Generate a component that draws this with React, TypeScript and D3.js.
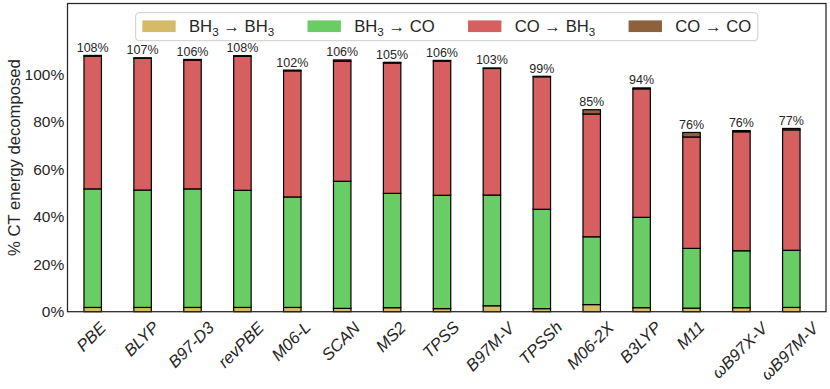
import { useEffect, useRef } from "react";
import * as d3 from "d3";

// functionals on the x axis
const methods = [
  "PBE", "BLYP", "B97-D3", "revPBE", "M06-L", "SCAN", "MS2", "TPSS",
  "B97M-V", "TPSSh", "M06-2X", "B3LYP", "M11", "ωB97X-V", "ωB97M-V",
];

// % of CT energy per channel
const bh3ToBh3 = [1.8, 1.8, 1.8, 1.8, 1.8, 1.4, 1.7, 1.3, 2.5, 1.3, 3.0, 1.7, 1.5, 1.7, 1.8];
const bh3ToCo = [50.0, 49.5, 50.0, 49.4, 46.6, 53.6, 48.2, 47.8, 46.7, 41.9, 28.6, 38.1, 25.2, 24.0, 24.1];
const coToBh3 = [56.0, 55.6, 54.3, 56.5, 53.2, 50.6, 55.0, 56.6, 53.4, 55.9, 51.8, 54.2, 47.0, 50.2, 50.8];
const coToCo = [0.3, 0.2, 0.3, 0.3, 0.3, 0.6, 0.3, 0.3, 0.2, 0.2, 1.8, 0.4, 1.9, 0.5, 0.6];

const seriesKeys = ["bb", "bc", "cb", "cc"];
const legendLabels = ["BH_3 → BH_3", "BH_3 → CO", "CO → BH_3", "CO → CO"];
const colors = ["#D5BB67", "#6ACC64", "#D65F5F", "#8C613C"];
const yTicks = [0, 20, 40, 60, 80, 100];

const FONT = "'Liberation Sans', Arial, sans-serif";
const INK = "#262626";

// writes "BH_3" style labels as tspans with a subscript
function addRichText(text, label, fs) {
  const parts = label.split(/_(\d)/);
  const shift = fs * 0.22;
  let lowered = false;
  parts.forEach((p, k) => {
    if (p === "") return;
    const ts = text.append("tspan").text(p);
    if (k % 2 === 1) {
      ts.attr("font-size", fs * 0.7).attr("dy", shift);
      lowered = true;
    } else if (lowered) {
      ts.attr("dy", -shift);
      lowered = false;
    }
  });
}

export default function App() {
  const ref = useRef<SVGSVGElement>(null);

  useEffect(() => {
    const svg = d3.select(ref.current);
    svg.selectAll("*").remove();

    const plot = { left: 67.5, right: 826, top: 3.5, bottom: 311.7 };

    const x = d3.scaleLinear().domain([-0.505, 14.695]).range([plot.left, plot.right]);
    const y = d3.scaleLinear().domain([0, 130]).range([plot.bottom, plot.top]);
    const barW = x(0.35) - x(0);

    const rows = methods.map((m, i) => ({
      method: m,
      i,
      bb: bh3ToBh3[i],
      bc: bh3ToCo[i],
      cb: coToBh3[i],
      cc: coToCo[i],
    }));
    const stacked = d3.stack().keys(seriesKeys)(rows);

    svg.append("rect").attr("width", 830).attr("height", 389).attr("fill", "#fff");

    // bars
    svg
      .append("g")
      .selectAll("g")
      .data(stacked)
      .join("g")
      .attr("fill", (d, k) => colors[k])
      .selectAll("rect")
      .data((d) => d)
      .join("rect")
      .attr("x", (d) => x(d.data.i) - barW / 2)
      .attr("y", (d) => y(d[1]))
      .attr("width", barW)
      .attr("height", (d) => y(d[0]) - y(d[1]))
      .attr("stroke", "#000")
      .attr("stroke-width", 1.2);

    // totals above bars
    svg
      .append("g")
      .selectAll("text")
      .data(rows)
      .join("text")
      .attr("x", (d) => x(d.i))
      .attr("y", (d) => y(d.bb + d.bc + d.cb + d.cc) - 3.5)
      .attr("text-anchor", "middle")
      .attr("font-family", FONT)
      .attr("font-size", 12.5)
      .attr("fill", INK)
      .text((d) => `${Math.round(d.bb + d.bc + d.cb + d.cc)}%`);

    // spines
    svg
      .append("rect")
      .attr("x", plot.left)
      .attr("y", plot.top)
      .attr("width", plot.right - plot.left)
      .attr("height", plot.bottom - plot.top)
      .attr("fill", "none")
      .attr("stroke", INK)
      .attr("stroke-width", 1.25);

    // y tick labels
    svg
      .append("g")
      .selectAll("text")
      .data(yTicks)
      .join("text")
      .attr("x", plot.left - 3.3)
      .attr("y", (d) => y(d))
      .attr("dy", "0.35em")
      .attr("text-anchor", "end")
      .attr("font-family", FONT)
      .attr("font-size", 15.5)
      .attr("fill", INK)
      .text((d) => `${d}%`);

    svg
      .append("text")
      .attr("transform", `translate(20,${(plot.top + plot.bottom) / 2}) rotate(-90)`)
      .attr("text-anchor", "middle")
      .attr("font-family", FONT)
      .attr("font-size", 16.67)
      .attr("fill", INK)
      .text("% CT energy decomposed");

    // x tick labels, rotated 45 and centred under each bar
    const xl = svg.append("g");
    rows.forEach((d) => {
      const g = xl.append("g");
      g.append("text")
        .attr("transform", "rotate(-45)")
        .attr("text-anchor", "middle")
        .attr("font-family", FONT)
        .attr("font-style", "italic")
        .attr("font-size", 16.67)
        .attr("fill", INK)
        .text(d.method);
      const bb = g.node().getBBox();
      g.attr(
        "transform",
        `translate(${x(d.i) - 1 - (bb.x + bb.width / 2)},${plot.bottom + 6 - bb.y})`
      );
    });

    // legend
    const fs = 16.67;
    const leg = svg.append("g");
    const frame = leg.append("rect");
    const entries = legendLabels.map((lab, k) => {
      const g = leg.append("g");
      g.append("rect")
        .attr("width", 2 * fs)
        .attr("height", 0.7 * fs)
        .attr("fill", colors[k]);
      const t = g
        .append("text")
        .attr("x", 2.8 * fs)
        .attr("y", 0.7 * fs)
        .attr("font-family", FONT)
        .attr("font-size", fs)
        .attr("fill", INK);
      addRichText(t, lab, fs);
      const w = t.node().getComputedTextLength();
      return { g, w };
    });
    const totalW =
      d3.sum(entries, (e) => 2.8 * fs + e.w) + 2 * fs * (entries.length - 1) + 0.8 * fs;
    const left = (plot.left + plot.right) / 2 - totalW / 2;
    let cx = left + 0.4 * fs;
    entries.forEach((e) => {
      e.g.attr("transform", `translate(${cx},20.4)`);
      cx += 2.8 * fs + e.w + 2 * fs;
    });
    frame
      .attr("x", left)
      .attr("y", 12.7)
      .attr("width", totalW)
      .attr("height", 28)
      .attr("rx", 3.3)
      .attr("fill", "#fff")
      .attr("fill-opacity", 0.8)
      .attr("stroke", "#cccccc")
      .attr("stroke-width", 1);
  }, []);

  return (
    <svg
      ref={ref}
      width={830}
      height={389}
      style={{ position: "absolute", left: 0, top: 0 }}
    ></svg>
  );
}
